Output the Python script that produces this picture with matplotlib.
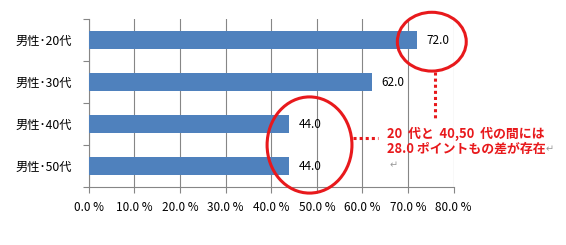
import matplotlib
matplotlib.use("Agg")
import matplotlib.pyplot as plt
from matplotlib.patches import Ellipse
import numpy as np

plt.rcParams['font.family'] = ['Noto Sans CJK JP', 'DejaVu Sans']

categories = ["男性･20代", "男性･30代", "男性･40代", "男性･50代"]
values = [72.0, 62.0, 44.0, 44.0]
xticks = [0, 10, 20, 30, 40, 50, 60, 70, 80]
xtick_labels = ["%.1f %%" % v for v in xticks]
note_line1 = "20  代と  40,50  代の間には"
note_line2 = "28.0 ポイントもの差が存在"

fig = plt.figure(figsize=(5.66, 2.45), dpi=100)
ax = fig.add_axes([88.7/566, (245-187)/245, (453.7-88.7)/566, (187-19)/245])

y = np.arange(len(categories))
ax.barh(y, values, height=0.42, color="#4F81BD", zorder=3)
ax.set_ylim(3.5, -0.5)
ax.set_xlim(0, 80)

ax.set_yticks(y)
ax.set_yticklabels(categories, fontsize=8.8)
ax.set_yticks(np.arange(-0.5, 4.0, 1.0), minor=True)
ax.tick_params(axis='y', which='major', length=0, pad=12)
ax.tick_params(axis='y', which='minor', length=4, color="#868686", width=0.8)
ax.set_xticks(xticks)
ax.set_xticklabels(xtick_labels, fontsize=8.5)
ax.tick_params(axis='x', length=4, color="#868686", width=0.8, pad=6)

ax.grid(axis='x', color="#868686", linewidth=0.8, zorder=0)
for s in ['top', 'right']:
    ax.spines[s].set_visible(False)
for s in ['left', 'bottom']:
    ax.spines[s].set_color("#868686")
    ax.spines[s].set_linewidth(0.8)

for yi, v in zip(y, values):
    ax.annotate("%.1f" % v, (v, yi), xytext=(7, 0), textcoords='offset points',
                ha='left', va='center', fontsize=8.5, color='black', zorder=4)

red = "#E8191C"
ax.add_patch(Ellipse((values[0] + 3.2, 0.04), 15.1, 1.40, fill=False,
                     edgecolor=red, linewidth=2.2, clip_on=False, zorder=5))
ax.add_patch(Ellipse((values[2] + 4.4, 2.5), 18.6, 2.29, fill=False,
                     edgecolor=red, linewidth=2.2, clip_on=False, zorder=5))
ax.plot([76.0, 76.0], [0.76, 1.90], color=red, linewidth=2.2,
        linestyle=(0, (1, 1)), clip_on=False, zorder=5)
ax.plot([57.9, 63.4], [2.33, 2.33], color=red, linewidth=2.2,
        linestyle=(0, (1, 1)), clip_on=False, zorder=5)

ax.text(65.4, 2.24, note_line1, color=red, fontsize=9.3, fontweight='bold',
        ha='left', va='center', zorder=6, clip_on=False)
t2 = ax.text(65.4, 2.60, note_line2, color=red, fontsize=9.3, fontweight='bold',
             ha='left', va='center', zorder=6, clip_on=False)
ax.annotate("↵", xy=(1, 0.5), xycoords=t2, xytext=(0, 0), textcoords='offset points',
            ha='left', va='center', fontsize=7, color="#9A9A9A", family=['DejaVu Sans'])
ax.text(66.0, 2.98, "↵", color="#9A9A9A", fontsize=7, ha='left', va='center',
        family=['DejaVu Sans'])

fig.savefig("out.png", dpi=100)
